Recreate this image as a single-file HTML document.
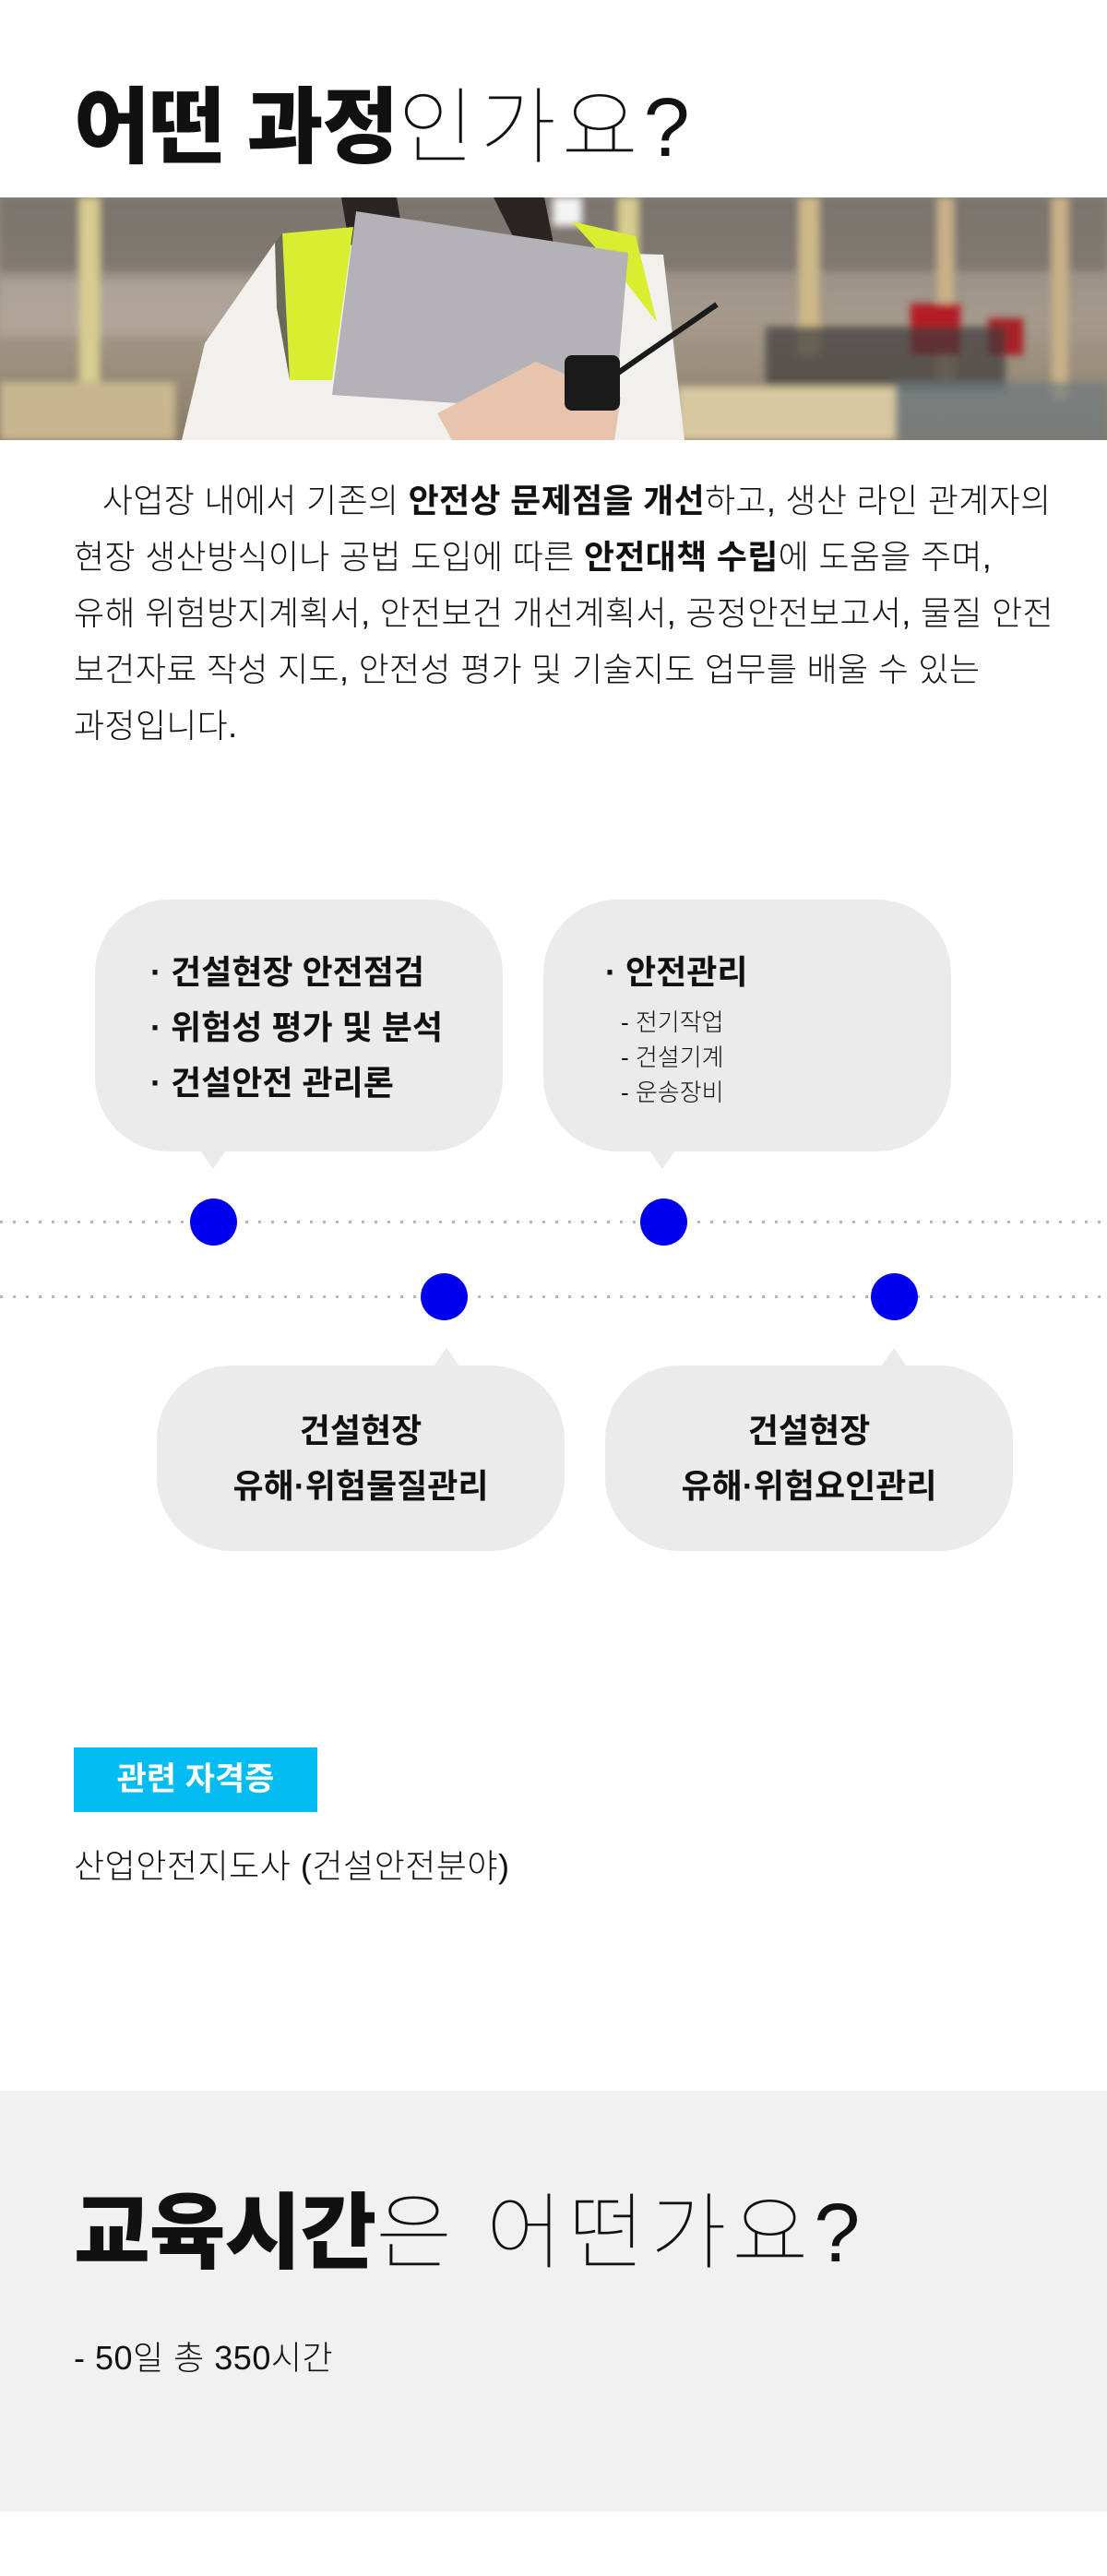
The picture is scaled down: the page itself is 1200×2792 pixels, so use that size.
<!DOCTYPE html>
<html><head><meta charset="utf-8"><style>
*{margin:0;padding:0;box-sizing:border-box}
body{width:1200px;height:2792px;background:#fff;position:relative;overflow:hidden;font-family:"Liberation Sans","Noto Sans CJK KR",sans-serif;color:#111}
.a{position:absolute;white-space:nowrap}
.t{font-size:90px;line-height:1;letter-spacing:1px}
.t b{font-weight:900;letter-spacing:-1px}
.t span{font-weight:100;letter-spacing:6px}
.p{left:80px;top:512px;font-size:36px;line-height:61px;font-weight:300;letter-spacing:0.3px}
.p b{font-weight:700}
.bub{position:absolute;background:#ebebeb;border-radius:80px}
.tail{position:absolute;width:0;height:0;border-left:14px solid transparent;border-right:14px solid transparent}
.dot{position:absolute;width:51px;height:51px;border-radius:50%;background:#0000ef}
.line{position:absolute;left:0;width:1200px;height:3px;background:repeating-linear-gradient(90deg,#b8b8b8 0 3px,transparent 3px 14px)}
.bt{font-size:36px;font-weight:700;line-height:60px}
.st{font-size:26px;font-weight:300;line-height:38px}
</style></head><body>
<div class="a t" style="left:80px;top:94px"><b>어떤 과정</b><span>인가요?</span></div>

<svg class="a" style="left:0;top:214px" width="1200" height="263" viewBox="0 0 1200 263">
<defs><linearGradient id="bg" x1="0" y1="0" x2="0" y2="1"><stop offset="0" stop-color="#8c847c"/><stop offset="0.5" stop-color="#a59a8c"/><stop offset="1" stop-color="#8a7c66"/></linearGradient>
<filter id="bl"><feGaussianBlur stdDeviation="4"/></filter></defs>
<rect width="1200" height="263" fill="url(#bg)"/>
<g filter="url(#bl)">
<rect x="0" y="0" width="1200" height="80" fill="#6f6a66" opacity="0.6"/>
<rect x="0" y="90" width="300" height="60" fill="#b8aca0" opacity="0.6"/>
<rect x="86" y="0" width="22" height="263" fill="#d8cc90"/>
<rect x="670" y="0" width="22" height="120" fill="#d8cc90"/>
<rect x="866" y="0" width="22" height="170" fill="#cdb888"/>
<rect x="1016" y="0" width="18" height="200" fill="#c8b088"/>
<rect x="1140" y="0" width="18" height="220" fill="#c8b088"/>
<rect x="987" y="115" width="54" height="56" fill="#b41e28"/>
<rect x="1071" y="131" width="38" height="40" fill="#a82028"/>
<rect x="830" y="140" width="260" height="70" fill="#3c3a3c" opacity="0.7"/>
<rect x="734" y="205" width="240" height="58" fill="#d8c8a0"/>
<rect x="0" y="200" width="190" height="63" fill="#c8b690"/>
<rect x="970" y="200" width="230" height="63" fill="#6e7a80" opacity="0.7"/>
<rect x="600" y="0" width="30" height="30" fill="#f4f4f4"/>
</g>
<path d="M370 0 L430 0 L440 60 L380 60Z" fill="#2a2422"/>
<path d="M535 0 L590 0 L600 50 L560 50Z" fill="#2a2422"/>
<polygon points="197,263 222,158 298,49 719,62 742,263" fill="#f2f0ec"/>
<polygon points="306,39 383,32 360,198 314,198" fill="#d9ee30"/>
<polygon points="298,49 306,39 314,198 300,120" fill="#6a6a5a"/>
<polygon points="620,26 689,42 712,135 673,85" fill="#d9ee30"/>
<polygon points="386,15 681,60 666,234 360,214" fill="#b4b2b6"/>
<polygon points="474,234 581,178 673,217 666,263 490,263" fill="#e8c4ac"/>
<rect x="612" y="171" width="60" height="60" rx="8" fill="#1a1a1a"/>
<line x1="660" y1="197" x2="777" y2="116" stroke="#1a1a1a" stroke-width="6"/>
</svg>

<div class="a p">&nbsp;&nbsp;&nbsp;사업장 내에서 기존의 <b>안전상 문제점을 개선</b>하고, 생산 라인 관계자의<br>현장 생산방식이나 공법 도입에 따른 <b>안전대책 수립</b>에 도움을 주며,<br>유해 위험방지계획서, 안전보건 개선계획서, 공정안전보고서, 물질 안전<br>보건자료 작성 지도, 안전성 평가 및 기술지도 업무를 배울 수 있는<br>과정입니다.</div>

<div class="line" style="top:1323px"></div>
<div class="line" style="top:1404px"></div>

<div class="bub" style="left:103px;top:975px;width:442px;height:273px"></div>
<div class="tail" style="left:217px;top:1247px;border-top:20px solid #ebebeb"></div>
<div class="a bt" style="left:163px;top:1024px">· 건설현장 안전점검<br>· 위험성 평가 및 분석<br>· 건설안전 관리론</div>

<div class="bub" style="left:589px;top:975px;width:442px;height:273px"></div>
<div class="tail" style="left:704px;top:1247px;border-top:20px solid #ebebeb"></div>
<div class="a bt" style="left:656px;top:1024px">· 안전관리</div>
<div class="a st" style="left:673px;top:1089px">- 전기작업<br>- 건설기계<br>- 운송장비</div>

<div class="dot" style="left:206px;top:1299px"></div>
<div class="dot" style="left:694px;top:1299px"></div>
<div class="dot" style="left:456px;top:1380px"></div>
<div class="dot" style="left:944px;top:1380px"></div>

<div class="tail" style="left:470px;top:1461px;border-bottom:20px solid #ebebeb"></div>
<div class="bub" style="left:170px;top:1480px;width:442px;height:201px"></div>
<div class="a bt" style="left:170px;width:442px;text-align:center;top:1521px">건설현장<br>유해·위험물질관리</div>

<div class="tail" style="left:955px;top:1461px;border-bottom:20px solid #ebebeb"></div>
<div class="bub" style="left:656px;top:1480px;width:442px;height:201px"></div>
<div class="a bt" style="left:656px;width:442px;text-align:center;top:1521px">건설현장<br>유해·위험요인관리</div>

<div class="a" style="left:80px;top:1894px;width:264px;height:70px;background:#00bcf0;color:#fff;font-size:35px;font-weight:700;line-height:70px;text-align:center">관련 자격증</div>
<div class="a" style="left:80px;top:2000px;font-size:36px;font-weight:300;line-height:46px;letter-spacing:0.5px">산업안전지도사 (건설안전분야)</div>

<div class="a" style="left:0;top:2266px;width:1200px;height:456px;background:#f1f1f1"></div>
<div class="a t" style="left:80px;top:2376px"><b>교육시간</b><span>은 어떤가요?</span></div>
<div class="a" style="left:80px;top:2533px;font-size:36px;font-weight:300;line-height:46px;letter-spacing:0.5px">- 50일 총 350시간</div>
</body></html>
